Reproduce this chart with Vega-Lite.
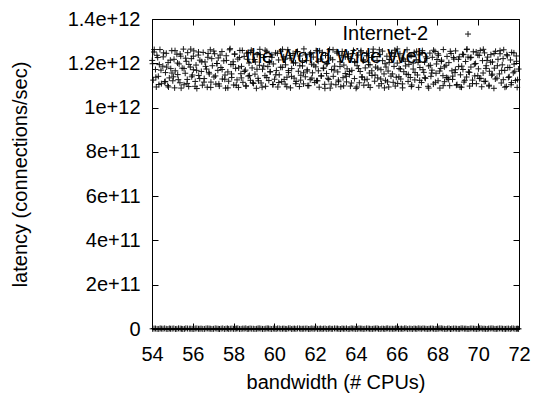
{
  "$schema": "https://vega.github.io/schema/vega-lite/v6.json",
  "width": 367,
  "height": 310,
  "autosize": "none",
  "padding": {"left": 152, "top": 19, "right": 15, "bottom": 65},
  "background": "white",
  "config": {
    "view": {"stroke": "black", "strokeWidth": 1},
    "font": "Liberation Sans",
    "axis": {
      "grid": false,
      "domain": false,
      "labelFont": "Liberation Sans",
      "labelFontSize": 20,
      "labelFontWeight": "normal",
      "labelColor": "black",
      "titleFont": "Liberation Sans",
      "titleFontSize": 20,
      "titleFontWeight": "normal",
      "titleColor": "black",
      "tickColor": "black",
      "tickSize": -6,
      "tickWidth": 1
    }
  },
  "datasets": {
    "web": [
      {"x":54.01,"y":1.213e12},{"x":54.06,"y":1.124e12},{"x":54.10,"y":1.251e12},{"x":54.17,"y":1.172e12},{"x":54.21,"y":1.093e12},{"x":54.24,"y":1.236e12},{"x":54.31,"y":1.141e12},{"x":54.36,"y":1.194e12},{"x":54.39,"y":1.262e12},{"x":54.46,"y":1.108e12},
      {"x":54.53,"y":1.187e12},{"x":54.55,"y":1.229e12},{"x":54.62,"y":1.116e12},{"x":54.66,"y":1.158e12},{"x":54.70,"y":1.245e12},{"x":54.77,"y":1.099e12},{"x":54.79,"y":1.203e12},{"x":54.85,"y":1.134e12},{"x":54.92,"y":1.176e12},{"x":54.97,"y":1.257e12},
      {"x":55.02,"y":1.121e12},{"x":55.08,"y":1.218e12},{"x":55.11,"y":1.089e12},{"x":55.14,"y":1.166e12},{"x":55.22,"y":1.241e12},{"x":55.26,"y":1.149e12},{"x":55.33,"y":1.197e12},{"x":55.37,"y":1.112e12},{"x":55.41,"y":1.232e12},{"x":55.48,"y":1.178e12},
      {"x":55.54,"y":1.264e12},{"x":55.57,"y":1.103e12},{"x":55.63,"y":1.155e12},{"x":55.68,"y":1.209e12},{"x":55.73,"y":1.127e12},{"x":55.75,"y":1.248e12},{"x":55.80,"y":1.095e12},{"x":55.88,"y":1.183e12},{"x":55.93,"y":1.221e12},{"x":55.95,"y":1.139e12},
      {"x":56.03,"y":1.171e12},{"x":56.05,"y":1.256e12},{"x":56.12,"y":1.118e12},{"x":56.16,"y":1.192e12},{"x":56.20,"y":1.086e12},{"x":56.27,"y":1.237e12},{"x":56.29,"y":1.145e12},{"x":56.35,"y":1.214e12},{"x":56.42,"y":1.163e12},{"x":56.47,"y":1.101e12},
      {"x":56.51,"y":1.249e12},{"x":56.56,"y":1.131e12},{"x":56.60,"y":1.206e12},{"x":56.67,"y":1.174e12},{"x":56.71,"y":1.092e12},{"x":56.74,"y":1.227e12},{"x":56.81,"y":1.152e12},{"x":56.86,"y":1.261e12},{"x":56.89,"y":1.115e12},{"x":56.96,"y":1.189e12},
      {"x":57.04,"y":1.138e12},{"x":57.07,"y":1.243e12},{"x":57.13,"y":1.106e12},{"x":57.18,"y":1.199e12},{"x":57.23,"y":1.168e12},{"x":57.25,"y":1.224e12},{"x":57.30,"y":1.097e12},{"x":57.38,"y":1.181e12},{"x":57.43,"y":1.253e12},{"x":57.45,"y":1.129e12},
      {"x":57.52,"y":1.211e12},{"x":57.58,"y":1.147e12},{"x":57.61,"y":1.088e12},{"x":57.64,"y":1.234e12},{"x":57.72,"y":1.161e12},{"x":57.76,"y":1.119e12},{"x":57.83,"y":1.266e12},{"x":57.87,"y":1.195e12},{"x":57.91,"y":1.136e12},{"x":57.98,"y":1.207e12},
      {"x":58.01,"y":1.102e12},{"x":58.06,"y":1.242e12},{"x":58.10,"y":1.177e12},{"x":58.17,"y":1.125e12},{"x":58.21,"y":1.219e12},{"x":58.24,"y":1.091e12},{"x":58.31,"y":1.258e12},{"x":58.36,"y":1.153e12},{"x":58.39,"y":1.186e12},{"x":58.46,"y":1.114e12},
      {"x":58.52,"y":1.231e12},{"x":58.58,"y":1.169e12},{"x":58.61,"y":1.098e12},{"x":58.64,"y":1.246e12},{"x":58.72,"y":1.142e12},{"x":58.76,"y":1.201e12},{"x":58.83,"y":1.123e12},{"x":58.87,"y":1.259e12},{"x":58.91,"y":1.179e12},{"x":58.98,"y":1.109e12},
      {"x":59.03,"y":1.217e12},{"x":59.05,"y":1.151e12},{"x":59.12,"y":1.087e12},{"x":59.16,"y":1.239e12},{"x":59.20,"y":1.132e12},{"x":59.27,"y":1.191e12},{"x":59.29,"y":1.263e12},{"x":59.35,"y":1.111e12},{"x":59.42,"y":1.173e12},{"x":59.47,"y":1.226e12},
      {"x":59.54,"y":1.144e12},{"x":59.57,"y":1.096e12},{"x":59.63,"y":1.254e12},{"x":59.68,"y":1.185e12},{"x":59.73,"y":1.122e12},{"x":59.75,"y":1.208e12},{"x":59.80,"y":1.162e12},{"x":59.88,"y":1.238e12},{"x":59.93,"y":1.104e12},{"x":59.95,"y":1.197e12},
      {"x":60.01,"y":1.128e12},{"x":60.06,"y":1.247e12},{"x":60.10,"y":1.167e12},{"x":60.17,"y":1.093e12},{"x":60.21,"y":1.215e12},{"x":60.24,"y":1.148e12},{"x":60.31,"y":1.255e12},{"x":60.36,"y":1.117e12},{"x":60.39,"y":1.182e12},{"x":60.46,"y":1.229e12},
      {"x":60.53,"y":1.106e12},{"x":60.55,"y":1.193e12},{"x":60.62,"y":1.137e12},{"x":60.66,"y":1.261e12},{"x":60.70,"y":1.158e12},{"x":60.77,"y":1.223e12},{"x":60.79,"y":1.089e12},{"x":60.85,"y":1.176e12},{"x":60.92,"y":1.244e12},{"x":60.97,"y":1.133e12},
      {"x":61.04,"y":1.202e12},{"x":61.07,"y":1.118e12},{"x":61.13,"y":1.252e12},{"x":61.18,"y":1.164e12},{"x":61.23,"y":1.095e12},{"x":61.25,"y":1.233e12},{"x":61.30,"y":1.146e12},{"x":61.38,"y":1.188e12},{"x":61.43,"y":1.107e12},{"x":61.45,"y":1.265e12},
      {"x":61.52,"y":1.139e12},{"x":61.58,"y":1.212e12},{"x":61.61,"y":1.171e12},{"x":61.64,"y":1.099e12},{"x":61.72,"y":1.241e12},{"x":61.76,"y":1.126e12},{"x":61.83,"y":1.196e12},{"x":61.87,"y":1.157e12},{"x":61.91,"y":1.228e12},{"x":61.98,"y":1.113e12},
      {"x":62.03,"y":1.184e12},{"x":62.05,"y":1.257e12},{"x":62.12,"y":1.121e12},{"x":62.16,"y":1.166e12},{"x":62.20,"y":1.092e12},{"x":62.27,"y":1.219e12},{"x":62.29,"y":1.143e12},{"x":62.35,"y":1.249e12},{"x":62.42,"y":1.178e12},{"x":62.47,"y":1.105e12},
      {"x":62.51,"y":1.235e12},{"x":62.56,"y":1.154e12},{"x":62.60,"y":1.199e12},{"x":62.67,"y":1.127e12},{"x":62.71,"y":1.262e12},{"x":62.74,"y":1.088e12},{"x":62.81,"y":1.172e12},{"x":62.86,"y":1.216e12},{"x":62.89,"y":1.141e12},{"x":62.96,"y":1.187e12},
      {"x":63.02,"y":1.103e12},{"x":63.08,"y":1.246e12},{"x":63.11,"y":1.161e12},{"x":63.14,"y":1.124e12},{"x":63.22,"y":1.207e12},{"x":63.26,"y":1.094e12},{"x":63.33,"y":1.253e12},{"x":63.37,"y":1.135e12},{"x":63.41,"y":1.192e12},{"x":63.48,"y":1.229e12},
      {"x":63.54,"y":1.116e12},{"x":63.57,"y":1.175e12},{"x":63.63,"y":1.242e12},{"x":63.68,"y":1.149e12},{"x":63.73,"y":1.097e12},{"x":63.75,"y":1.221e12},{"x":63.80,"y":1.168e12},{"x":63.88,"y":1.258e12},{"x":63.93,"y":1.131e12},{"x":63.95,"y":1.204e12},
      {"x":64.01,"y":1.087e12},{"x":64.06,"y":1.189e12},{"x":64.10,"y":1.237e12},{"x":64.17,"y":1.112e12},{"x":64.21,"y":1.163e12},{"x":64.24,"y":1.251e12},{"x":64.31,"y":1.138e12},{"x":64.36,"y":1.211e12},{"x":64.39,"y":1.101e12},{"x":64.46,"y":1.179e12},
      {"x":64.53,"y":1.245e12},{"x":64.55,"y":1.128e12},{"x":64.62,"y":1.194e12},{"x":64.66,"y":1.156e12},{"x":64.70,"y":1.091e12},{"x":64.77,"y":1.226e12},{"x":64.79,"y":1.145e12},{"x":64.85,"y":1.264e12},{"x":64.92,"y":1.119e12},{"x":64.97,"y":1.183e12},
      {"x":65.04,"y":1.213e12},{"x":65.07,"y":1.134e12},{"x":65.13,"y":1.098e12},{"x":65.18,"y":1.239e12},{"x":65.23,"y":1.171e12},{"x":65.25,"y":1.108e12},{"x":65.30,"y":1.255e12},{"x":65.38,"y":1.152e12},{"x":65.43,"y":1.198e12},{"x":65.45,"y":1.123e12},
      {"x":65.52,"y":1.232e12},{"x":65.58,"y":1.165e12},{"x":65.61,"y":1.093e12},{"x":65.64,"y":1.217e12},{"x":65.72,"y":1.142e12},{"x":65.76,"y":1.248e12},{"x":65.83,"y":1.114e12},{"x":65.87,"y":1.186e12},{"x":65.91,"y":1.259e12},{"x":65.98,"y":1.137e12},
      {"x":66.03,"y":1.201e12},{"x":66.05,"y":1.109e12},{"x":66.12,"y":1.176e12},{"x":66.16,"y":1.243e12},{"x":66.20,"y":1.129e12},{"x":66.27,"y":1.224e12},{"x":66.29,"y":1.089e12},{"x":66.35,"y":1.162e12},{"x":66.42,"y":1.209e12},{"x":66.47,"y":1.151e12},
      {"x":66.51,"y":1.261e12},{"x":66.56,"y":1.118e12},{"x":66.60,"y":1.195e12},{"x":66.67,"y":1.136e12},{"x":66.71,"y":1.234e12},{"x":66.74,"y":1.102e12},{"x":66.81,"y":1.174e12},{"x":66.86,"y":1.249e12},{"x":66.89,"y":1.125e12},{"x":66.96,"y":1.216e12},
      {"x":67.02,"y":1.147e12},{"x":67.08,"y":1.091e12},{"x":67.11,"y":1.238e12},{"x":67.14,"y":1.181e12},{"x":67.22,"y":1.113e12},{"x":67.26,"y":1.257e12},{"x":67.33,"y":1.159e12},{"x":67.37,"y":1.205e12},{"x":67.41,"y":1.132e12},{"x":67.48,"y":1.222e12},
      {"x":67.54,"y":1.096e12},{"x":67.57,"y":1.188e12},{"x":67.63,"y":1.246e12},{"x":67.68,"y":1.141e12},{"x":67.73,"y":1.169e12},{"x":67.75,"y":1.227e12},{"x":67.80,"y":1.106e12},{"x":67.88,"y":1.253e12},{"x":67.93,"y":1.155e12},{"x":67.95,"y":1.197e12},
      {"x":68.03,"y":1.121e12},{"x":68.05,"y":1.236e12},{"x":68.12,"y":1.088e12},{"x":68.16,"y":1.177e12},{"x":68.20,"y":1.214e12},{"x":68.27,"y":1.144e12},{"x":68.29,"y":1.262e12},{"x":68.35,"y":1.117e12},{"x":68.42,"y":1.191e12},{"x":68.47,"y":1.231e12},
      {"x":68.51,"y":1.134e12},{"x":68.56,"y":1.203e12},{"x":68.60,"y":1.099e12},{"x":68.67,"y":1.244e12},{"x":68.71,"y":1.166e12},{"x":68.74,"y":1.127e12},{"x":68.81,"y":1.219e12},{"x":68.86,"y":1.158e12},{"x":68.89,"y":1.256e12},{"x":68.96,"y":1.104e12},
      {"x":69.04,"y":1.185e12},{"x":69.07,"y":1.229e12},{"x":69.13,"y":1.148e12},{"x":69.18,"y":1.092e12},{"x":69.23,"y":1.241e12},{"x":69.25,"y":1.172e12},{"x":69.30,"y":1.115e12},{"x":69.38,"y":1.208e12},{"x":69.43,"y":1.138e12},{"x":69.45,"y":1.264e12},
      {"x":69.52,"y":1.161e12},{"x":69.58,"y":1.097e12},{"x":69.61,"y":1.225e12},{"x":69.64,"y":1.183e12},{"x":69.72,"y":1.124e12},{"x":69.76,"y":1.252e12},{"x":69.83,"y":1.143e12},{"x":69.87,"y":1.199e12},{"x":69.91,"y":1.108e12},{"x":69.98,"y":1.237e12},
      {"x":70.01,"y":1.175e12},{"x":70.06,"y":1.131e12},{"x":70.10,"y":1.258e12},{"x":70.17,"y":1.094e12},{"x":70.21,"y":1.212e12},{"x":70.24,"y":1.156e12},{"x":70.31,"y":1.247e12},{"x":70.36,"y":1.119e12},{"x":70.39,"y":1.189e12},{"x":70.46,"y":1.228e12},
      {"x":70.53,"y":1.101e12},{"x":70.55,"y":1.164e12},{"x":70.62,"y":1.239e12},{"x":70.66,"y":1.146e12},{"x":70.70,"y":1.206e12},{"x":70.77,"y":1.087e12},{"x":70.79,"y":1.178e12},{"x":70.85,"y":1.254e12},{"x":70.92,"y":1.133e12},{"x":70.97,"y":1.218e12},
      {"x":71.04,"y":1.152e12},{"x":71.07,"y":1.243e12},{"x":71.13,"y":1.111e12},{"x":71.18,"y":1.193e12},{"x":71.23,"y":1.126e12},{"x":71.25,"y":1.261e12},{"x":71.30,"y":1.168e12},{"x":71.38,"y":1.095e12},{"x":71.43,"y":1.234e12},{"x":71.45,"y":1.181e12},
      {"x":71.52,"y":1.139e12},{"x":71.58,"y":1.215e12},{"x":71.61,"y":1.103e12},{"x":71.64,"y":1.249e12},{"x":71.72,"y":1.157e12},{"x":71.76,"y":1.196e12},{"x":71.83,"y":1.122e12},{"x":71.87,"y":1.233e12},{"x":71.91,"y":1.091e12},{"x":71.98,"y":1.174e12},
      {"x":54.03,"y":1.198e12},{"x":54.11,"y":1.262e12},{"x":54.19,"y":1.137e12},{"x":54.28,"y":1.226e12},{"x":54.34,"y":1.104e12},{"x":54.44,"y":1.169e12},
      {"x":54.57,"y":1.247e12},{"x":54.65,"y":1.118e12},{"x":54.72,"y":1.183e12},{"x":54.81,"y":1.093e12},{"x":54.90,"y":1.214e12},{"x":54.98,"y":1.156e12},
      {"x":55.05,"y":1.139e12},{"x":55.13,"y":1.257e12},{"x":55.25,"y":1.201e12},{"x":55.29,"y":1.126e12},{"x":55.38,"y":1.242e12},{"x":55.43,"y":1.088e12},
      {"x":55.57,"y":1.176e12},{"x":55.65,"y":1.223e12},{"x":55.72,"y":1.109e12},{"x":55.81,"y":1.195e12},{"x":55.90,"y":1.264e12},{"x":55.98,"y":1.147e12},
      {"x":56.03,"y":1.232e12},{"x":56.11,"y":1.096e12},{"x":56.19,"y":1.168e12},{"x":56.28,"y":1.251e12},{"x":56.34,"y":1.131e12},{"x":56.44,"y":1.207e12},
      {"x":56.55,"y":1.115e12},{"x":56.63,"y":1.186e12},{"x":56.75,"y":1.244e12},{"x":56.79,"y":1.159e12},{"x":56.88,"y":1.091e12},{"x":56.93,"y":1.221e12},
      {"x":57.03,"y":1.255e12},{"x":57.11,"y":1.143e12},{"x":57.19,"y":1.199e12},{"x":57.28,"y":1.107e12},{"x":57.34,"y":1.237e12},{"x":57.44,"y":1.172e12},
      {"x":57.57,"y":1.128e12},{"x":57.65,"y":1.213e12},{"x":57.72,"y":1.089e12},{"x":57.81,"y":1.261e12},{"x":57.90,"y":1.152e12},{"x":57.98,"y":1.194e12},
      {"x":58.05,"y":1.241e12},{"x":58.13,"y":1.101e12},{"x":58.25,"y":1.179e12},{"x":58.29,"y":1.226e12},{"x":58.38,"y":1.134e12},{"x":58.43,"y":1.258e12},
      {"x":58.53,"y":1.163e12},{"x":58.61,"y":1.097e12},{"x":58.69,"y":1.218e12},{"x":58.78,"y":1.145e12},{"x":58.84,"y":1.249e12},{"x":58.94,"y":1.112e12},
      {"x":59.07,"y":1.206e12},{"x":59.15,"y":1.173e12},{"x":59.22,"y":1.121e12},{"x":59.31,"y":1.239e12},{"x":59.40,"y":1.092e12},{"x":59.48,"y":1.188e12},
      {"x":59.55,"y":1.259e12},{"x":59.63,"y":1.136e12},{"x":59.75,"y":1.204e12},{"x":59.79,"y":1.161e12},{"x":59.88,"y":1.227e12},{"x":59.93,"y":1.104e12},
      {"x":60.07,"y":1.148e12},{"x":60.15,"y":1.245e12},{"x":60.22,"y":1.113e12},{"x":60.31,"y":1.182e12},{"x":60.40,"y":1.263e12},{"x":60.48,"y":1.127e12},
      {"x":60.53,"y":1.219e12},{"x":60.61,"y":1.094e12},{"x":60.69,"y":1.167e12},{"x":60.78,"y":1.235e12},{"x":60.84,"y":1.141e12},{"x":60.94,"y":1.201e12},
      {"x":61.05,"y":1.108e12},{"x":61.13,"y":1.253e12},{"x":61.25,"y":1.189e12},{"x":61.29,"y":1.124e12},{"x":61.38,"y":1.211e12},{"x":61.43,"y":1.157e12},
      {"x":61.53,"y":1.238e12},{"x":61.61,"y":1.165e12},{"x":61.69,"y":1.099e12},{"x":61.78,"y":1.247e12},{"x":61.84,"y":1.133e12},{"x":61.94,"y":1.192e12},
      {"x":62.07,"y":1.121e12},{"x":62.15,"y":1.209e12},{"x":62.22,"y":1.256e12},{"x":62.31,"y":1.143e12},{"x":62.40,"y":1.178e12},{"x":62.48,"y":1.087e12},
      {"x":62.55,"y":1.196e12},{"x":62.63,"y":1.132e12},{"x":62.75,"y":1.224e12},{"x":62.79,"y":1.106e12},{"x":62.88,"y":1.261e12},{"x":62.93,"y":1.169e12},
      {"x":63.07,"y":1.252e12},{"x":63.15,"y":1.117e12},{"x":63.22,"y":1.185e12},{"x":63.31,"y":1.236e12},{"x":63.40,"y":1.098e12},{"x":63.48,"y":1.154e12},
      {"x":63.53,"y":1.141e12},{"x":63.61,"y":1.229e12},{"x":63.69,"y":1.163e12},{"x":63.78,"y":1.111e12},{"x":63.84,"y":1.244e12},{"x":63.94,"y":1.208e12},
      {"x":64.05,"y":1.093e12},{"x":64.13,"y":1.176e12},{"x":64.25,"y":1.257e12},{"x":64.29,"y":1.138e12},{"x":64.38,"y":1.216e12},{"x":64.43,"y":1.125e12},
      {"x":64.53,"y":1.234e12},{"x":64.61,"y":1.102e12},{"x":64.69,"y":1.193e12},{"x":64.78,"y":1.166e12},{"x":64.84,"y":1.249e12},{"x":64.94,"y":1.147e12},
      {"x":65.07,"y":1.178e12},{"x":65.15,"y":1.261e12},{"x":65.22,"y":1.129e12},{"x":65.31,"y":1.212e12},{"x":65.40,"y":1.089e12},{"x":65.48,"y":1.183e12},
      {"x":65.55,"y":1.116e12},{"x":65.63,"y":1.203e12},{"x":65.75,"y":1.245e12},{"x":65.79,"y":1.152e12},{"x":65.88,"y":1.231e12},{"x":65.93,"y":1.097e12},
      {"x":66.03,"y":1.265e12},{"x":66.11,"y":1.139e12},{"x":66.19,"y":1.174e12},{"x":66.28,"y":1.107e12},{"x":66.34,"y":1.219e12},{"x":66.44,"y":1.188e12},
      {"x":66.57,"y":1.149e12},{"x":66.65,"y":1.237e12},{"x":66.72,"y":1.095e12},{"x":66.81,"y":1.201e12},{"x":66.90,"y":1.158e12},{"x":66.98,"y":1.254e12},
      {"x":67.05,"y":1.204e12},{"x":67.13,"y":1.123e12},{"x":67.25,"y":1.248e12},{"x":67.29,"y":1.171e12},{"x":67.38,"y":1.135e12},{"x":67.43,"y":1.229e12},
      {"x":67.57,"y":1.088e12},{"x":67.65,"y":1.191e12},{"x":67.72,"y":1.156e12},{"x":67.81,"y":1.259e12},{"x":67.90,"y":1.114e12},{"x":67.98,"y":1.217e12},
      {"x":68.03,"y":1.243e12},{"x":68.11,"y":1.165e12},{"x":68.19,"y":1.208e12},{"x":68.28,"y":1.099e12},{"x":68.34,"y":1.184e12},{"x":68.44,"y":1.136e12},
      {"x":68.55,"y":1.127e12},{"x":68.63,"y":1.254e12},{"x":68.75,"y":1.142e12},{"x":68.79,"y":1.226e12},{"x":68.88,"y":1.171e12},{"x":68.93,"y":1.101e12},
      {"x":69.03,"y":1.218e12},{"x":69.11,"y":1.093e12},{"x":69.19,"y":1.187e12},{"x":69.28,"y":1.239e12},{"x":69.34,"y":1.123e12},{"x":69.44,"y":1.262e12},
      {"x":69.57,"y":1.159e12},{"x":69.65,"y":1.227e12},{"x":69.72,"y":1.108e12},{"x":69.81,"y":1.196e12},{"x":69.90,"y":1.251e12},{"x":69.98,"y":1.144e12},
      {"x":70.05,"y":1.236e12},{"x":70.13,"y":1.132e12},{"x":70.25,"y":1.263e12},{"x":70.29,"y":1.118e12},{"x":70.38,"y":1.177e12},{"x":70.43,"y":1.213e12},
      {"x":70.53,"y":1.097e12},{"x":70.61,"y":1.205e12},{"x":70.69,"y":1.151e12},{"x":70.78,"y":1.244e12},{"x":70.84,"y":1.129e12},{"x":70.94,"y":1.189e12},
      {"x":71.07,"y":1.257e12},{"x":71.15,"y":1.168e12},{"x":71.22,"y":1.221e12},{"x":71.31,"y":1.092e12},{"x":71.40,"y":1.239e12},{"x":71.48,"y":1.136e12},
      {"x":71.55,"y":1.181e12},{"x":71.63,"y":1.113e12},{"x":71.75,"y":1.247e12},{"x":71.79,"y":1.164e12},{"x":71.88,"y":1.209e12},{"x":71.93,"y":1.126e12}
    ],
    "inet": [
      {"x":54.03,"y":0.8e9},{"x":54.17,"y":2.1e9},{"x":54.33,"y":0.3e9},{"x":54.46,"y":1.5e9},{"x":54.62,"y":2.7e9},{"x":54.78,"y":0.1e9},{"x":54.91,"y":1.1e9},{"x":55.07,"y":2.4e9},{"x":55.22,"y":0.6e9},{"x":55.38,"y":1.8e9},
      {"x":55.51,"y":0.2e9},{"x":55.66,"y":2.9e9},{"x":55.83,"y":1.3e9},{"x":55.97,"y":0.5e9},{"x":56.12,"y":2.2e9},{"x":56.28,"y":0.9e9},{"x":56.41,"y":1.7e9},{"x":56.57,"y":0.4e9},{"x":56.73,"y":2.5e9},{"x":56.86,"y":1.2e9},
      {"x":57.02,"y":0.7e9},{"x":57.18,"y":1.9e9},{"x":57.31,"y":0.1e9},{"x":57.47,"y":2.6e9},{"x":57.63,"y":1.4e9},{"x":57.76,"y":0.3e9},{"x":57.92,"y":2.0e9},{"x":58.08,"y":1.0e9},{"x":58.21,"y":2.8e9},{"x":58.37,"y":0.6e9},
      {"x":58.52,"y":1.6e9},{"x":58.67,"y":0.2e9},{"x":58.81,"y":2.3e9},{"x":58.97,"y":1.1e9},{"x":59.13,"y":0.8e9},{"x":59.26,"y":2.7e9},{"x":59.42,"y":0.4e9},{"x":59.58,"y":1.5e9},{"x":59.71,"y":2.1e9},{"x":59.87,"y":0.0e9},
      {"x":60.02,"y":1.3e9},{"x":60.16,"y":2.5e9},{"x":60.32,"y":0.7e9},{"x":60.47,"y":1.8e9},{"x":60.61,"y":0.3e9},{"x":60.77,"y":2.9e9},{"x":60.92,"y":1.2e9},{"x":61.06,"y":0.5e9},{"x":61.23,"y":2.2e9},{"x":61.37,"y":0.9e9},
      {"x":61.52,"y":1.6e9},{"x":61.68,"y":0.1e9},{"x":61.81,"y":2.4e9},{"x":61.96,"y":1.0e9},{"x":62.12,"y":0.6e9},{"x":62.27,"y":2.0e9},{"x":62.41,"y":1.4e9},{"x":62.57,"y":0.2e9},{"x":62.72,"y":2.6e9},{"x":62.86,"y":0.8e9},
      {"x":63.03,"y":1.7e9},{"x":63.17,"y":0.4e9},{"x":63.32,"y":2.3e9},{"x":63.46,"y":1.1e9},{"x":63.62,"y":0.0e9},{"x":63.77,"y":2.8e9},{"x":63.91,"y":1.5e9},{"x":64.07,"y":0.7e9},{"x":64.22,"y":1.9e9},{"x":64.36,"y":0.3e9},
      {"x":64.52,"y":2.5e9},{"x":64.67,"y":1.2e9},{"x":64.82,"y":0.5e9},{"x":64.96,"y":2.1e9},{"x":65.11,"y":0.9e9},{"x":65.27,"y":1.6e9},{"x":65.42,"y":0.2e9},{"x":65.56,"y":2.7e9},{"x":65.72,"y":1.3e9},{"x":65.87,"y":0.6e9},
      {"x":66.01,"y":2.2e9},{"x":66.17,"y":1.0e9},{"x":66.31,"y":0.4e9},{"x":66.46,"y":2.4e9},{"x":66.62,"y":1.8e9},{"x":66.77,"y":0.1e9},{"x":66.92,"y":1.4e9},{"x":67.06,"y":2.9e9},{"x":67.21,"y":0.8e9},{"x":67.37,"y":1.7e9},
      {"x":67.52,"y":0.3e9},{"x":67.66,"y":2.0e9},{"x":67.81,"y":1.1e9},{"x":67.97,"y":0.5e9},{"x":68.12,"y":2.6e9},{"x":68.26,"y":1.5e9},{"x":68.42,"y":0.0e9},{"x":68.57,"y":2.3e9},{"x":68.71,"y":0.9e9},{"x":68.87,"y":1.9e9},
      {"x":69.02,"y":0.6e9},{"x":69.16,"y":2.8e9},{"x":69.32,"y":1.2e9},{"x":69.46,"y":0.4e9},{"x":69.61,"y":2.1e9},{"x":69.77,"y":1.6e9},{"x":69.91,"y":0.2e9},{"x":70.06,"y":2.5e9},{"x":70.22,"y":1.0e9},{"x":70.36,"y":0.7e9},
      {"x":70.51,"y":1.8e9},{"x":70.67,"y":2.7e9},{"x":70.82,"y":0.3e9},{"x":70.96,"y":1.3e9},{"x":71.12,"y":2.2e9},{"x":71.27,"y":0.8e9},{"x":71.41,"y":1.5e9},{"x":71.57,"y":0.1e9},{"x":71.72,"y":2.4e9},{"x":71.88,"y":1.1e9},
      {"x":71.98,"y":0.5e9},
      {"x":54.10,"y":1.9e9},{"x":54.25,"y":0.4e9},{"x":54.40,"y":2.6e9},{"x":54.54,"y":1.2e9},{"x":54.70,"y":0.7e9},{"x":54.85,"y":2.3e9},{"x":54.99,"y":1.6e9},{"x":55.15,"y":0.2e9},{"x":55.30,"y":2.8e9},{"x":55.45,"y":1.0e9},
      {"x":55.59,"y":0.5e9},{"x":55.74,"y":2.0e9},{"x":55.90,"y":1.4e9},{"x":56.05,"y":0.0e9},{"x":56.20,"y":2.5e9},{"x":56.35,"y":1.1e9},{"x":56.49,"y":0.6e9},{"x":56.65,"y":2.2e9},{"x":56.80,"y":1.7e9},{"x":56.94,"y":0.3e9},
      {"x":57.10,"y":2.7e9},{"x":57.25,"y":0.9e9},{"x":57.39,"y":1.5e9},{"x":57.55,"y":0.1e9},{"x":57.70,"y":2.4e9},{"x":57.84,"y":1.3e9},{"x":58.00,"y":0.7e9},{"x":58.15,"y":2.1e9},{"x":58.29,"y":0.4e9},{"x":58.45,"y":1.8e9},
      {"x":58.60,"y":2.9e9},{"x":58.74,"y":0.8e9},{"x":58.89,"y":1.2e9},{"x":59.05,"y":0.2e9},{"x":59.20,"y":2.3e9},{"x":59.34,"y":1.6e9},{"x":59.50,"y":0.5e9},{"x":59.65,"y":2.6e9},{"x":59.79,"y":1.0e9},{"x":59.95,"y":1.9e9},
      {"x":60.09,"y":0.3e9},{"x":60.24,"y":2.0e9},{"x":60.40,"y":1.4e9},{"x":60.54,"y":0.6e9},{"x":60.69,"y":2.7e9},{"x":60.85,"y":0.1e9},{"x":60.99,"y":1.7e9},{"x":61.14,"y":2.4e9},{"x":61.30,"y":0.8e9},{"x":61.44,"y":1.3e9},
      {"x":61.60,"y":2.2e9},{"x":61.75,"y":0.4e9},{"x":61.89,"y":1.5e9},{"x":62.04,"y":2.8e9},{"x":62.20,"y":0.9e9},{"x":62.34,"y":0.2e9},{"x":62.49,"y":2.1e9},{"x":62.65,"y":1.1e9},{"x":62.79,"y":0.6e9},{"x":62.95,"y":2.5e9},
      {"x":63.10,"y":1.8e9},{"x":63.25,"y":0.0e9},{"x":63.39,"y":1.2e9},{"x":63.54,"y":2.6e9},{"x":63.70,"y":0.7e9},{"x":63.84,"y":1.9e9},{"x":63.99,"y":0.3e9},{"x":64.15,"y":2.3e9},{"x":64.29,"y":1.5e9},{"x":64.44,"y":0.9e9},
      {"x":64.60,"y":2.0e9},{"x":64.74,"y":0.5e9},{"x":64.89,"y":1.7e9},{"x":65.04,"y":2.9e9},{"x":65.19,"y":0.2e9},{"x":65.35,"y":1.4e9},{"x":65.49,"y":2.2e9},{"x":65.64,"y":0.8e9},{"x":65.80,"y":1.0e9},{"x":65.94,"y":2.4e9},
      {"x":66.09,"y":0.6e9},{"x":66.24,"y":1.6e9},{"x":66.39,"y":2.7e9},{"x":66.54,"y":0.1e9},{"x":66.70,"y":1.3e9},{"x":66.85,"y":2.1e9},{"x":66.99,"y":0.4e9},{"x":67.14,"y":1.9e9},{"x":67.29,"y":2.6e9},{"x":67.44,"y":0.9e9},
      {"x":67.59,"y":1.1e9},{"x":67.74,"y":2.3e9},{"x":67.89,"y":0.3e9},{"x":68.04,"y":1.5e9},{"x":68.19,"y":2.8e9},{"x":68.34,"y":0.7e9},{"x":68.49,"y":1.8e9},{"x":68.64,"y":0.0e9},{"x":68.79,"y":2.0e9},{"x":68.94,"y":1.2e9},
      {"x":69.09,"y":0.5e9},{"x":69.24,"y":2.5e9},{"x":69.39,"y":1.6e9},{"x":69.54,"y":0.2e9},{"x":69.69,"y":2.2e9},{"x":69.84,"y":1.0e9},{"x":69.99,"y":0.8e9},{"x":70.14,"y":2.7e9},{"x":70.29,"y":1.4e9},{"x":70.44,"y":0.3e9},
      {"x":70.59,"y":2.1e9},{"x":70.74,"y":1.7e9},{"x":70.89,"y":0.6e9},{"x":71.04,"y":2.4e9},{"x":71.19,"y":1.1e9},{"x":71.34,"y":0.4e9},{"x":71.49,"y":1.9e9},{"x":71.64,"y":2.6e9},{"x":71.80,"y":0.9e9},{"x":71.93,"y":1.5e9}
    ],
    "key": [
      {"label":"Internet-2","x":67.54,"sx":69.5,"y":1.332e12},
      {"label":"the World Wide Web","x":67.54,"sx":69.5,"y":1.228e12}
    ]
  },
  "layer": [
    {
      "data": {"name": "key"},
      "mark": {"type": "text", "align": "right", "baseline": "middle", "fontSize": 20, "font": "Liberation Sans", "color": "black"},
      "encoding": {
        "x": {"field": "x", "type": "quantitative", "scale": {"domain": [54, 72], "nice": false, "zero": false}, "axis": null},
        "y": {"field": "y", "type": "quantitative", "scale": {"domain": [0, 1.4e12], "nice": false}, "axis": null},
        "text": {"field": "label"}
      }
    },
    {
      "data": {"name": "web"},
      "mark": {"type": "point", "shape": "M-1,0H1M0,-1V1", "size": 36, "filled": false, "color": "black", "strokeWidth": 1, "opacity": 0.9},
      "encoding": {
        "x": {
          "field": "x", "type": "quantitative",
          "axis": {"orient": "bottom", "values": [54,56,58,60,62,64,66,68,70,72], "title": "bandwidth (# CPUs)", "labelPadding": 21, "titlePadding": 8, "labelFlush": false}
        },
        "y": {
          "field": "y", "type": "quantitative",
          "axis": {"orient": "left", "values": [0,2e11,4e11,6e11,8e11,1e12,1.2e12,1.4e12], "title": "latency (connections/sec)", "labelPadding": 18, "titlePadding": 37,
            "labelExpr": "datum.value == 0 ? '0' : format(datum.value, '~e')"}
        }
      }
    },
    {
      "data": {"name": "inet"},
      "mark": {"type": "point", "shape": "M-1,0H1M0,-1V1", "size": 36, "filled": false, "color": "black", "strokeWidth": 1, "opacity": 0.9, "clip": false},
      "encoding": {
        "x": {"field": "x", "type": "quantitative", "axis": null},
        "y": {"field": "y", "type": "quantitative", "axis": null}
      }
    },
    {
      "data": {"name": "key"},
      "mark": {"type": "point", "shape": "M-1,0H1M0,-1V1", "size": 36, "filled": false, "color": "black", "strokeWidth": 1, "opacity": 0.9},
      "encoding": {
        "x": {"field": "sx", "type": "quantitative", "axis": {"orient": "top", "values": [54,56,58,60,62,64,66,68,70,72], "labels": false, "title": null}},
        "y": {"field": "y", "type": "quantitative", "axis": {"orient": "right", "values": [0,2e11,4e11,6e11,8e11,1e12,1.2e12,1.4e12], "labels": false, "title": null}}
      }
    }
  ],
  "resolve": {"axis": {"x": "independent", "y": "independent"}}
}
